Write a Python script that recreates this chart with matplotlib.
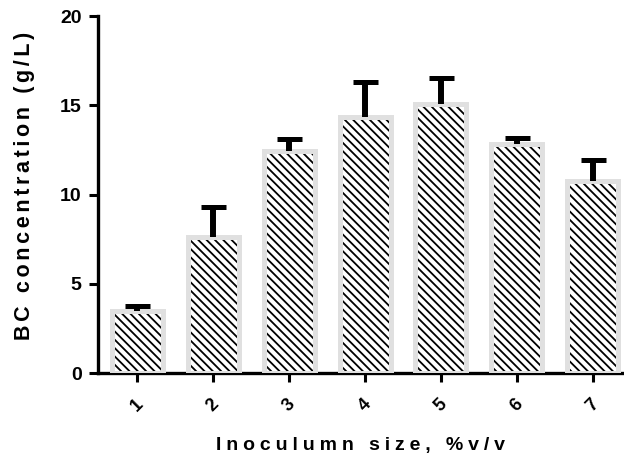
import matplotlib
matplotlib.use('Agg')
import matplotlib.pyplot as plt
import numpy as np
from matplotlib.backend_bases import GraphicsContextBase

# inoculum size (% v/v) and BC concentration (g/L), mean and SD
sizes = ['1', '2', '3', '4', '5', '6', '7']
bc_mean = [3.47, 7.61, 12.46, 14.34, 15.07, 12.82, 10.76]
bc_sd = [0.28, 1.69, 0.66, 1.95, 1.45, 0.37, 1.15]
y_ticks = [0, 5, 10, 15, 20]

x_label = 'Inoculumn size, %v/v'
y_label = 'BC concentration (g/L)'

plt.rcParams['font.family'] = ['Liberation Sans', 'DejaVu Sans']
plt.rcParams['font.weight'] = 'bold'
plt.rcParams['hatch.linewidth'] = 1.3

# denser hatch than the default
_get_hatch_path = GraphicsContextBase.get_hatch_path
GraphicsContextBase.get_hatch_path = lambda self, density=6.0: _get_hatch_path(self, 12.0)


def spaced(s, gap):
    # wide letter spacing like the original graph
    return gap.join(s)


x = np.arange(1, len(sizes) + 1)
mean = np.array(bc_mean)
sd = np.array(bc_sd)

fig = plt.figure(figsize=(6.24, 4.55), dpi=100)
ax = fig.add_axes([0.1566, 0.1802, 0.8434, 0.7846])

ax.bar(x, mean, width=0.672, color='white', edgecolor='black',
       hatch='\\\\', linewidth=0, zorder=2)
ax.bar(x, mean, width=0.672, fill=False, edgecolor='#e0e0e0',
       linewidth=3.6, zorder=3)
ax.vlines(x, mean, mean + sd, color='black', linewidth=4.3, zorder=4)
ax.plot(x, mean + sd, ls='none', marker='_', ms=18, mew=3.6,
        color='black', zorder=4)

ax.set_xlim(0.48, 7.41)
ax.set_ylim(0, 20)
ax.set_yticks(y_ticks)
ax.set_xticks(x)
ax.set_xticklabels(sizes, rotation=45, ha='center', fontsize=13, fontweight='bold')

for s in ['top', 'right']:
    ax.spines[s].set_visible(False)
for s in ['left', 'bottom']:
    ax.spines[s].set_linewidth(2.4)

ax.tick_params(axis='both', width=2.2, length=6.5, direction='out')
ax.tick_params(axis='y', labelsize=14, pad=5)
ax.tick_params(axis='x', pad=10)

ax.set_xlabel(spaced(x_label, '\u2005'), fontsize=14, fontweight='bold')
ax.set_ylabel(spaced(y_label, '\u2006'), fontsize=15.5, fontweight='bold')
ax.xaxis.set_label_coords(0.5, -0.178)
ax.yaxis.set_label_coords(-0.12, 0.524)

fig.savefig('out.png', dpi=100)
